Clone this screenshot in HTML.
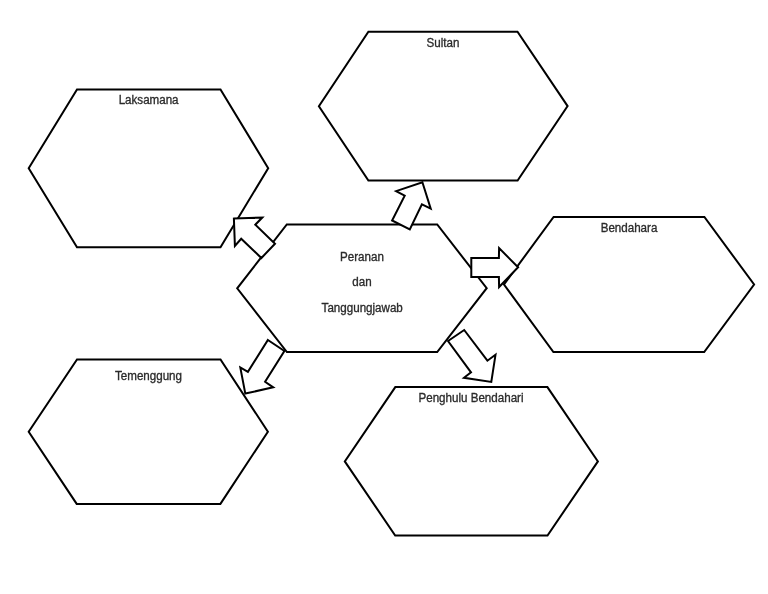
<!DOCTYPE html>
<html>
<head>
<meta charset="utf-8">
<style>
html,body{margin:0;padding:0;background:#fff;width:768px;height:594px;overflow:hidden;}
svg{display:block;will-change:transform;}
text{font-family:"Liberation Sans", sans-serif;font-size:11.6px;fill:#2a2a2a;stroke:#2a2a2a;stroke-width:0.3px;}
</style>
</head>
<body>
<svg width="768" height="594" viewBox="0 0 768 594">
<g fill="#fff" stroke="#000" stroke-width="2" stroke-linejoin="miter">
<!-- Laksamana -->
<polygon points="77,89.4 220.5,89.4 268.2,168.2 220.5,247.3 77,247.3 28.7,168.2"/>
<!-- Sultan -->
<polygon points="368.4,31.7 517.5,31.7 567.6,106.1 517.6,180.5 368.4,180.5 318.9,106.2"/>
<!-- Bendahara -->
<polygon points="553.6,217 704.4,217 754.1,284.5 704.2,352 553.4,352 504,284.5"/>
<!-- Center -->
<polygon points="286.8,224.5 437.2,224.5 486.7,288.2 437.2,352 286.9,352 237.2,288.3"/>
<!-- Temenggung -->
<polygon points="77,359.5 220.5,359.5 267.9,431.7 220.4,503.9 76.7,503.9 28.7,431.7"/>
<!-- Penghulu Bendahari -->
<polygon points="395.3,387.1 547.4,387.1 597.9,461.4 547.5,535.5 395.2,535.5 344.8,461.4"/>

<!-- arrows -->
<polygon points="422.4,182.3 430.7,208.6 421.9,204.3 409.8,229.4 392.1,220.5 404.7,195.7 396.1,191.1"/>
<polygon points="233.9,218.6 262.3,217.5 255.3,224.7 275.0,243.7 261.4,258.0 241.2,238.8 234.9,246.0"/>
<polygon points="471.3,258 498.9,258 499.1,248.1 518.1,267.3 499.1,287.0 498.9,276.9 471.3,276.9"/>
<polygon points="267.9,340 284.4,351 265.1,381.8 273.2,387.3 245.3,393.6 240.3,367.5 247.9,371.8"/>
<polygon points="448,341 464.2,330 487.4,360.7 495.5,354.8 491.3,381.9 464.0,377.8 471,372.4"/>
</g>
<defs><filter id="b" x="-10%" y="-50%" width="120%" height="200%"><feGaussianBlur stdDeviation="0.35"/></filter></defs>
<g text-anchor="middle" filter="url(#b)">
<text transform="translate(148.6,103.9) scale(1,1.07)">Laksamana</text>
<text transform="translate(442.9,46.6) scale(1,1.07)">Sultan</text>
<text transform="translate(629,231.7) scale(1,1.07)">Bendahara</text>
<text transform="translate(362,260.6) scale(1,1.07)">Peranan</text>
<text transform="translate(362,286) scale(1,1.07)">dan</text>
<text transform="translate(362.2,312.1) scale(1,1.07)">Tanggungjawab</text>
<text transform="translate(148.5,379.5) scale(1,1.07)">Temenggung</text>
<text transform="translate(471,402.2) scale(1,1.07)">Penghulu Bendahari</text>
</g>
</svg>
</body>
</html>
